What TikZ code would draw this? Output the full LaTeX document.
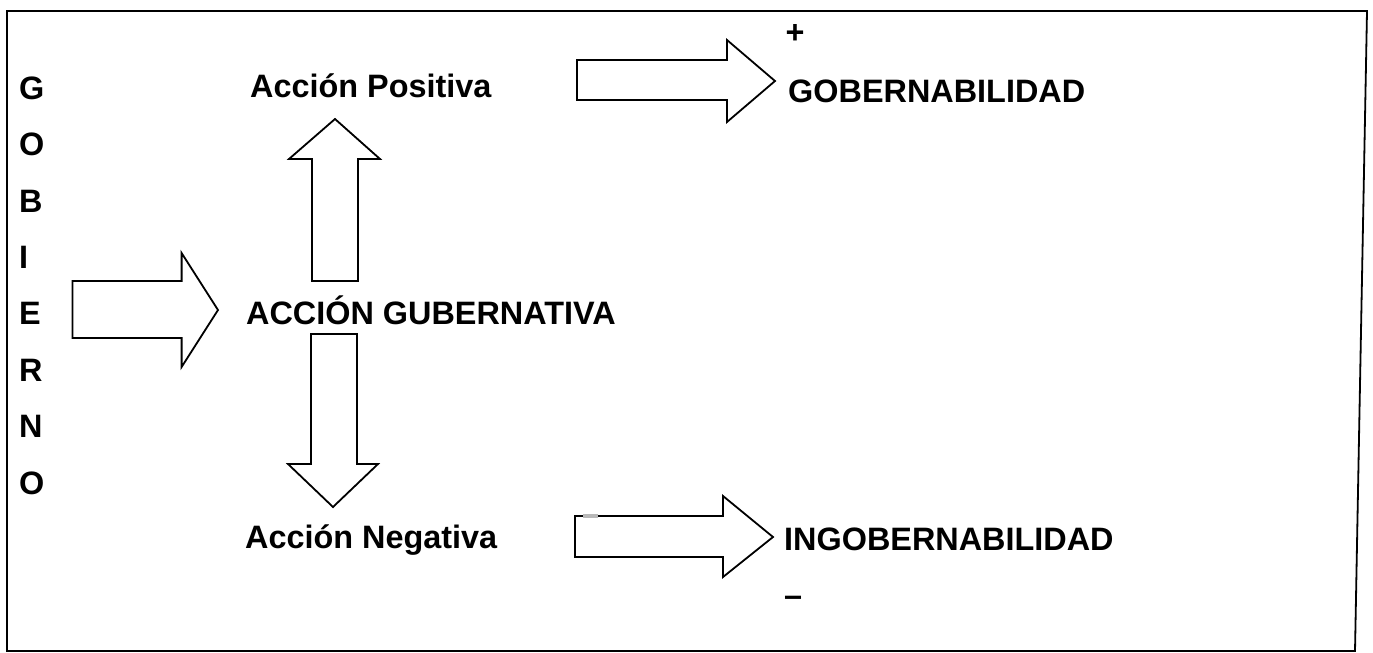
\documentclass[tikz,border=0pt]{standalone}
\usepackage{fontspec}
\setmainfont{Liberation Sans}
\begin{document}
\begin{tikzpicture}[x=1pt,y=-1pt,
  lbl/.style={inner sep=0pt,anchor=base west,font=\bfseries\fontsize{32.4}{36}\selectfont},
  sym/.style={inner sep=0pt,anchor=center,font=\bfseries\fontsize{32.4}{36}\selectfont},
  blockarrow/.style={draw=black,line width=1.8pt,fill=white,line join=miter}]
\useasboundingbox (0,0) rectangle (1373,653);
\fill[white] (0,0) rectangle (1373,653);
% frame
\draw[line width=1.8pt] (7,11) -- (1367,11) -- (1355,651) -- (7,651) -- cycle;

% vertical word GOBIERNO
\node[lbl] (g1) at (19,99) {G};
\node[lbl] (g2) at (19,155) {O};
\node[lbl] (g3) at (19,212) {B};
\node[lbl] (g4) at (19,268) {I};
\node[lbl] (g5) at (19,324) {E};
\node[lbl] (g6) at (19,381) {R};
\node[lbl] (g7) at (19,437) {N};
\node[lbl] (g8) at (19,494) {O};

% labels
\node[lbl] (pos) at (250,97) {Acción Positiva};
\node[lbl] (gub) at (246,324) {ACCIÓN GUBERNATIVA};
\node[lbl] (neg) at (245,548) {Acción Negativa};
\node[lbl] (gob) at (788,102) {GOBERNABILIDAD};
\node[lbl] (ingob) at (784,550) {INGOBERNABILIDAD};
\node[sym] (plus) at (795,34) {+};
\node[sym] (minus) at (793,601) {–};

% block arrows
\draw[blockarrow] (72.5,281) -- (181.6,281) -- (181.6,253) -- (218,310)
  -- (181.6,367) -- (181.6,338) -- (72.5,338) -- cycle;
\draw[blockarrow] (312,281) -- (312,159) -- (289,159) -- (335,119)
  -- (380,159) -- (358,159) -- (358,281) -- cycle;
\draw[blockarrow] (311,334) -- (357,334) -- (357,464) -- (378,464)
  -- (333,507) -- (288,464) -- (311,464) -- cycle;
\draw[blockarrow] (577,60) -- (727,60) -- (727,40) -- (775,81)
  -- (727,122) -- (727,100) -- (577,100) -- cycle;
\draw[blockarrow] (575,516) -- (723,516) -- (723,496) -- (773,537)
  -- (723,577) -- (723,557) -- (575,557) -- cycle;
\fill[gray!55] (583,514.3) rectangle (598,518);
\end{tikzpicture}
\end{document}
